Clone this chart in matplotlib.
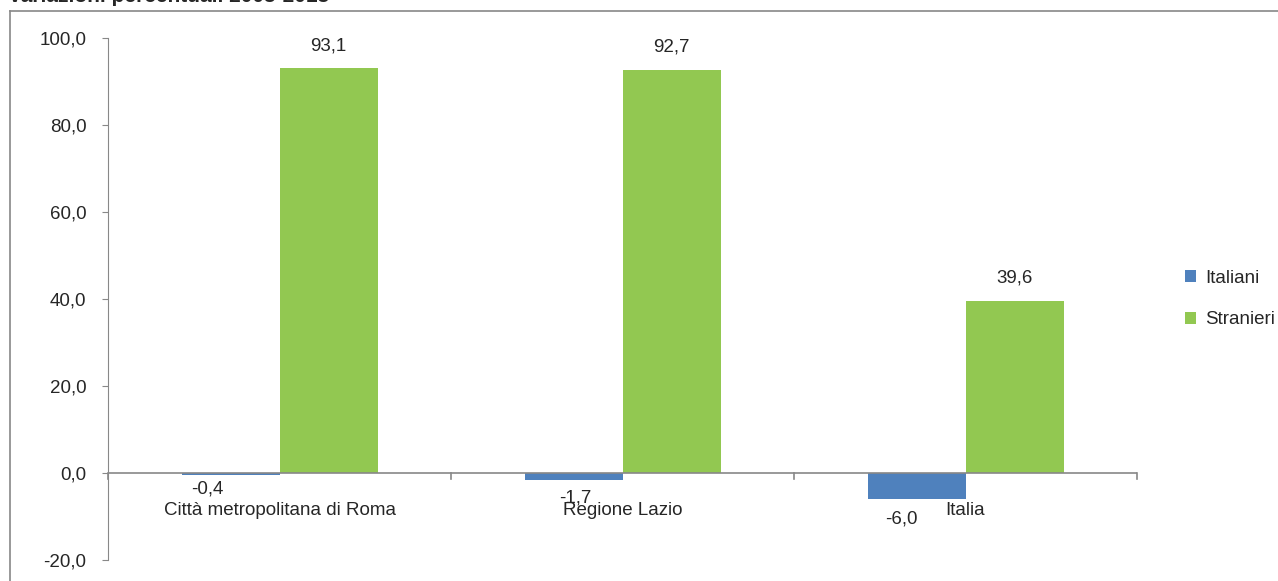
import matplotlib
matplotlib.use("Agg")
import matplotlib.pyplot as plt
from matplotlib.lines import Line2D
import numpy as np

categories = ["Città metropolitana di Roma", "Regione Lazio", "Italia"]
italiani = [-0.4, -1.7, -6.0]
stranieri = [93.1, 92.7, 39.6]
yticks = [-20, 0, 20, 40, 60, 80, 100]
series_names = ["Italiani", "Stranieri"]

W, H = 1278, 581
fig = plt.figure(figsize=(W / 100, H / 100), dpi=100)
plt.rcParams['font.family'] = ['Liberation Sans', 'DejaVu Sans']
FS = 13.5

# axes placement in pixels
x0, x1 = 108, 1137
ytop, ybot = 38, 560
ax = fig.add_axes([x0 / W, 1 - ybot / H, (x1 - x0) / W, (ybot - ytop) / H])

blue = "#4F81BD"
green = "#92C851"
grey = "#888888"
txt = "#262626"

x = np.arange(len(categories))
bw = 98 / 343
b1 = ax.bar(x - bw / 2, italiani, bw, color=blue, label=series_names[0])
b2 = ax.bar(x + bw / 2, stranieri, bw, color=green, label=series_names[1])

ax.set_xlim(-0.5, 2.5)
ax.set_ylim(-20, 100)
ax.set_yticks(yticks)
ax.set_yticklabels([f"{v:.1f}".replace(".", ",") for v in yticks], fontsize=FS, color=txt)
ax.tick_params(axis='y', direction='out', length=4.5, color=grey, pad=11)

for s in ["top", "right", "bottom"]:
    ax.spines[s].set_visible(False)
ax.spines["left"].set_color(grey)
ax.axhline(0, color=grey, lw=1.2, zorder=3)
# category boundary ticks below the zero line
ax.set_xticks([])
for b in [-0.5, 0.5, 1.5, 2.5]:
    ax.plot([b, b], [0, -1.4], color=grey, lw=1.2, clip_on=False, zorder=3)

# category labels
for xi, c in zip(x, categories):
    ax.text(xi, -6.6, c, ha='center', va='top', fontsize=FS, color=txt)

# data labels (negative labels nudged like the reference layout)
neg_dx = [-17, 1, -11]   # points
neg_dy = [0, -2, -4]     # points
for xi, v, dx, dy in zip(x, italiani, neg_dx, neg_dy):
    ax.annotate(f"{v:.1f}".replace(".", ","), (xi - bw / 2, v - 1.4),
                xytext=(dx, dy), textcoords='offset points',
                ha='center', va='top', fontsize=FS, color=txt)
for xi, v in zip(x, stranieri):
    ax.text(xi + bw / 2, v + 3.2, f"{v:.1f}".replace(".", ","), ha='center', va='bottom',
            fontsize=FS, color=txt)

# legend
leg = fig.legend(handles=[b1, b2], labels=series_names, loc='center left',
                 bbox_to_anchor=(1168 / W, 1 - 299 / H), frameon=False, fontsize=FS,
                 handlelength=0.6, handleheight=0.6, labelspacing=1.3, handletextpad=0.5)
for t in leg.get_texts():
    t.set_color(txt)

# outer chart border (partially visible)
fig.add_artist(Line2D([10 / W, 10 / W], [0, 1 - 11 / H], transform=fig.transFigure,
                      color=grey, lw=1.2))
fig.add_artist(Line2D([10 / W, 1], [1 - 11 / H, 1 - 11 / H], transform=fig.transFigure,
                      color=grey, lw=1.2))

# clipped title at the very top
fig.text(8 / W, 1 - 2 / H, "Variazioni percentuali 2005-2015", fontsize=15,
         fontweight='bold', color=txt, ha='left', va='baseline')

fig.savefig("out.png", dpi=100)
